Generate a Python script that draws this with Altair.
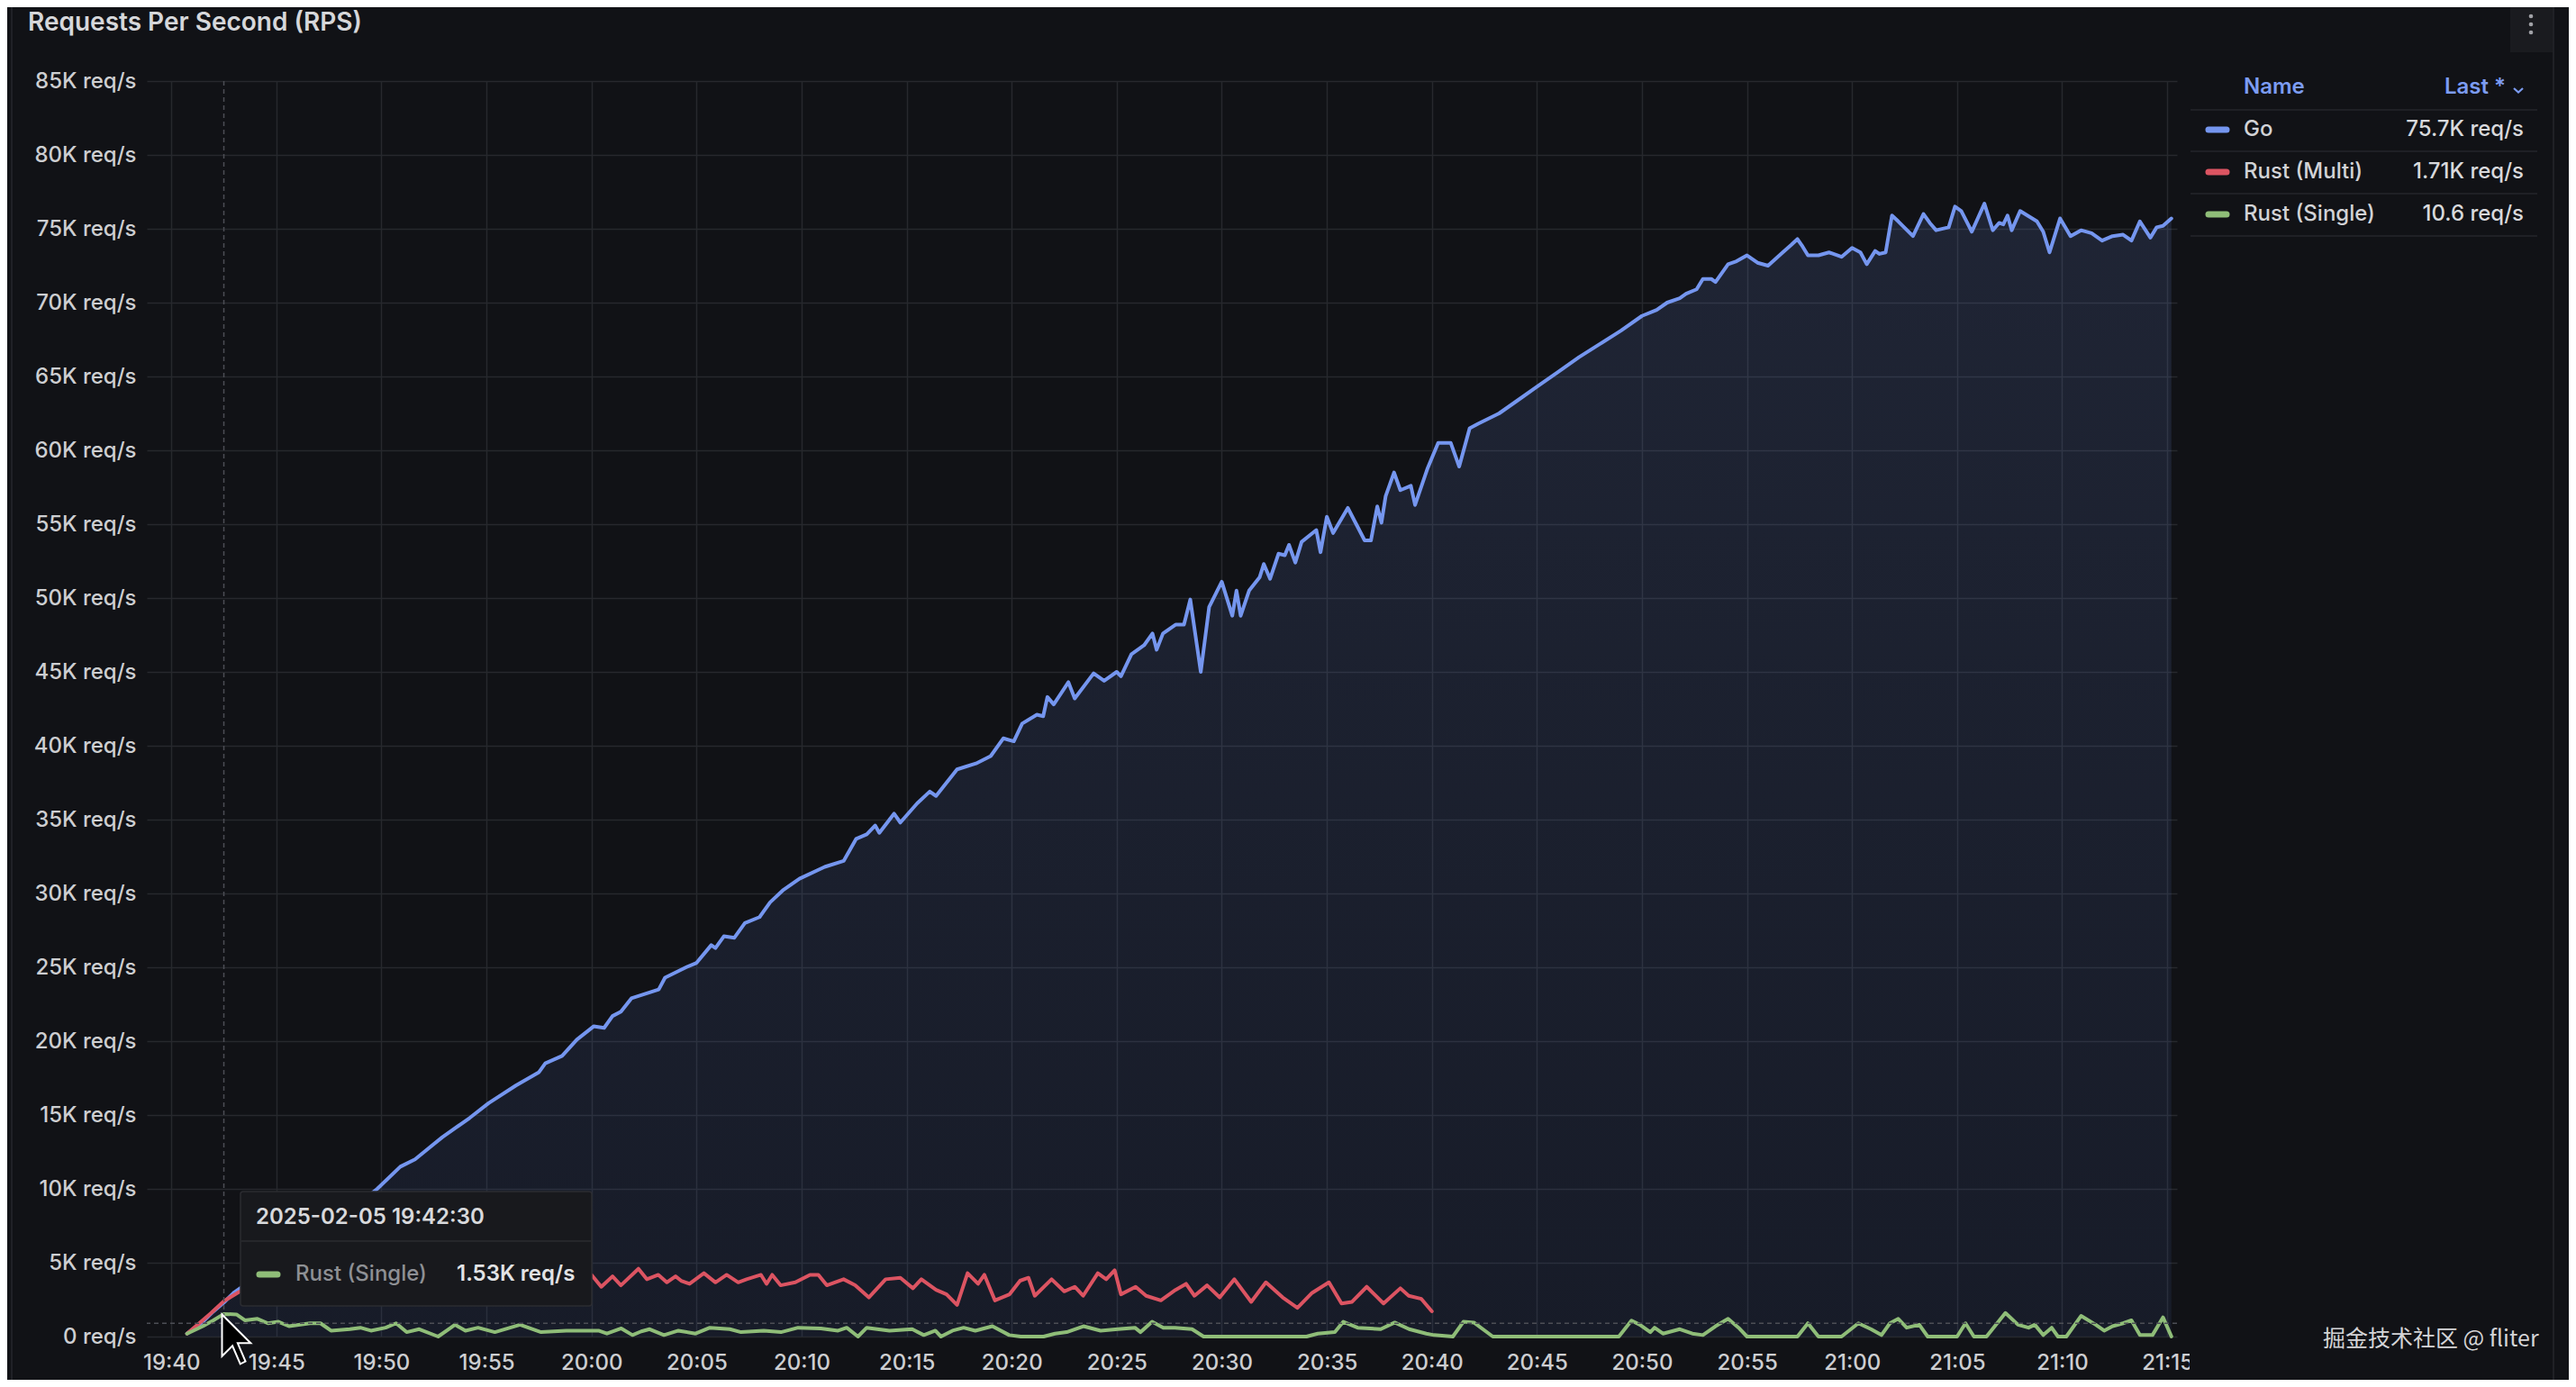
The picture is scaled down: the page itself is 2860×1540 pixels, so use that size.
import altair as alt
import pandas as pd

DAY = "2025-02-05T"

# ---------------- data ----------------
go_time = ["19:40:45","19:41:30","19:42:00","19:42:30","19:43:00","19:43:30","19:44:00","19:45:00","19:46:00","19:47:00",
           "19:48:00","19:49:00","19:49:48","19:50:54","19:51:36","19:52:54","19:54:12","19:55:06","19:56:24","19:57:30",
           "19:57:48","19:58:36","19:59:18","20:00:06","20:00:36","20:01:00","20:01:24","20:01:54","20:03:12","20:03:30",
           "20:04:30","20:05:00","20:05:42","20:05:54","20:06:18","20:06:48","20:07:18","20:08:00","20:08:30","20:09:06",
           "20:09:54","20:11:06","20:12:00","20:12:36","20:13:06","20:13:30","20:13:42","20:14:24","20:14:42","20:15:30",
           "20:16:06","20:16:24","20:17:24","20:18:18","20:19:00","20:19:36","20:20:06","20:20:30","20:21:12","20:21:30",
           "20:21:42","20:22:00","20:22:42","20:23:00","20:23:54","20:24:24","20:25:00","20:25:12","20:25:42","20:26:18",
           "20:26:42","20:26:54","20:27:12","20:27:48","20:28:12","20:28:30","20:29:00","20:29:24","20:30:00","20:30:30",
           "20:30:42","20:30:54","20:31:18","20:31:48","20:32:00","20:32:18","20:32:42","20:33:00","20:33:12","20:33:30",
           "20:33:48","20:34:30","20:34:42","20:35:00","20:35:18","20:36:00","20:36:24","20:36:48","20:37:06","20:37:24",
           "20:37:36","20:37:48","20:38:12","20:38:30","20:39:00","20:39:12","20:39:48","20:40:18","20:40:54","20:41:18",
           "20:41:48","20:42:12","20:43:12","20:44:06","20:45:00","20:46:00","20:47:00","20:48:00","20:49:00","20:50:00",
           "20:50:42","20:51:12","20:51:48","20:52:06","20:52:36","20:52:54","20:53:18","20:53:30","20:54:06","20:54:30",
           "20:55:00","20:55:30","20:56:00","20:56:42","20:57:06","20:57:24","20:57:36","20:57:54","20:58:24","20:58:54",
           "20:59:30","21:00:00","21:00:24","21:00:42","21:01:06","21:01:18","21:01:36","21:01:54","21:02:12","21:02:54",
           "21:03:24","21:03:42","21:04:00","21:04:36","21:04:54","21:05:12","21:05:42","21:06:18","21:06:42","21:07:00",
           "21:07:12","21:07:24","21:07:36","21:08:00","21:08:48","21:09:06","21:09:24","21:09:54","21:10:24","21:10:54",
           "21:11:24","21:11:54","21:12:24","21:12:54","21:13:18","21:13:42","21:14:12","21:14:30","21:14:48","21:15:12"]
go_krps = [0.2,1.0,1.7,2.3,3.0,3.5,4.2,5.1,6.2,7.1,
           8.2,9.1,10.0,11.5,12.0,13.5,14.8,15.8,17.0,17.9,
           18.5,19.0,20.1,21.0,20.9,21.7,22.0,22.9,23.5,24.3,
           25.0,25.3,26.5,26.3,27.1,27.0,28.0,28.4,29.4,30.2,
           31.0,31.8,32.2,33.7,34.0,34.6,34.1,35.4,34.8,36.1,
           36.9,36.6,38.4,38.8,39.3,40.5,40.3,41.5,42.1,42.0,
           43.3,42.8,44.3,43.2,44.9,44.4,45.0,44.7,46.2,46.8,
           47.6,46.5,47.6,48.2,48.2,49.9,45.0,49.4,51.1,48.8,
           50.5,48.8,50.5,51.4,52.3,51.3,53.0,52.9,53.6,52.4,
           53.8,54.6,53.1,55.5,54.4,56.1,55.0,53.9,53.9,56.2,
           55.1,56.9,58.5,57.3,57.6,56.3,58.8,60.5,60.5,58.9,
           61.5,61.8,62.5,63.4,64.3,65.3,66.3,67.2,68.1,69.1,
           69.5,70.0,70.3,70.6,70.9,71.6,71.6,71.4,72.6,72.8,
           73.2,72.7,72.5,73.4,73.9,74.3,73.9,73.2,73.2,73.4,
           73.1,73.7,73.4,72.6,73.5,73.3,73.4,75.9,75.5,74.5,
           76.0,75.4,74.9,75.1,76.5,76.2,74.8,76.7,74.9,75.4,
           75.3,75.9,74.9,76.2,75.5,74.8,73.4,75.7,74.5,74.9,
           74.7,74.2,74.5,74.6,74.2,75.5,74.4,75.1,75.2,75.7]

multi_time = ["19:40:45","19:41:15","19:41:54","19:42:30","19:43:12","19:44:00","19:45:00","19:46:00","19:47:00","19:48:00",
              "19:49:00","19:50:00","19:51:00","19:52:00","19:53:00","19:54:00","19:55:00","19:56:00","19:57:00","19:58:00",
              "19:59:00","20:00:00","20:00:28","20:01:00","20:01:24","20:02:14","20:02:38","20:03:11","20:03:35","20:04:00",
              "20:04:16","20:04:40","20:05:21","20:05:54","20:06:26","20:06:59","20:07:23","20:08:04","20:08:20","20:08:36",
              "20:09:00","20:09:42","20:10:24","20:10:48","20:11:12","20:12:00","20:12:33","20:13:12","20:14:00","20:14:42",
              "20:15:18","20:15:42","20:16:24","20:16:54","20:17:24","20:17:54","20:18:24","20:18:42","20:19:12","20:19:54",
              "20:20:24","20:20:48","20:21:06","20:21:54","20:22:30","20:23:00","20:23:24","20:24:06","20:24:30","20:24:54",
              "20:25:12","20:25:54","20:26:24","20:27:06","20:27:48","20:28:18","20:28:42","20:29:18","20:29:54","20:30:36",
              "20:31:24","20:32:06","20:32:54","20:33:36","20:34:18","20:35:06","20:35:42","20:36:12","20:36:54","20:37:42",
              "20:38:30","20:38:54","20:39:30","20:40:00"]
multi_krps = [0.2,0.8,1.6,2.4,3.0,3.6,3.9,4.3,3.8,4.2,
              3.7,4.1,3.9,4.3,3.8,4.0,4.4,3.7,4.1,3.9,
              4.2,4.18,3.37,4.08,3.47,4.59,3.88,4.18,3.67,4.08,
              3.78,3.57,4.29,3.67,4.18,3.67,3.88,4.18,3.57,4.18,
              3.47,3.67,4.18,4.18,3.47,3.88,3.47,2.65,3.88,3.98,
              3.27,3.88,3.16,2.86,2.14,4.29,3.57,4.18,2.45,2.86,
              3.78,3.98,2.76,3.88,3.06,3.37,2.76,4.29,3.88,4.49,
              2.86,3.37,2.76,2.45,3.16,3.57,2.76,3.47,2.65,3.88,
              2.35,3.67,2.65,1.94,2.96,3.67,2.24,2.35,3.37,2.24,
              3.27,2.76,2.55,1.71]

single_time = ["19:40:45","19:41:30","19:42:00","19:42:30","19:43:06","19:43:30","19:44:06","19:44:36","19:45:06","19:45:36",
               "19:46:36","19:47:06","19:47:36","19:48:30","19:49:00","19:49:30","19:50:12","19:50:42","19:51:12","19:51:48",
               "19:52:42","19:53:12","19:53:30","19:54:00","19:54:36","19:55:24","19:56:36","19:57:36","19:58:48","20:00:20",
               "20:00:44","20:01:25","20:01:57","20:02:22","20:02:46","20:03:27","20:04:08","20:04:57","20:05:38","20:06:35",
               "20:07:07","20:08:12","20:09:01","20:09:50","20:10:55","20:11:44","20:12:09","20:12:41","20:13:06","20:14:11",
               "20:15:16","20:15:49","20:16:22","20:16:38","20:17:11","20:17:43","20:18:16","20:19:05","20:19:53","20:20:26",
               "20:21:31","20:22:04","20:22:37","20:23:25","20:24:14","20:25:03","20:25:52","20:26:08","20:26:41","20:27:13",
               "20:27:46","20:28:35","20:29:08","20:34:02","20:34:34","20:35:23","20:35:47","20:36:28","20:37:34","20:38:14",
               "20:38:55","20:39:44","20:40:06","20:41:00","20:41:30","20:42:00","20:42:54","20:48:54","20:49:30","20:49:54",
               "20:50:24","20:50:36","20:51:00","20:51:48","20:52:24","20:52:54","20:53:30","20:54:06","20:54:36","20:55:00",
               "20:57:24","20:57:54","20:58:24","20:59:30","21:00:18","21:00:54","21:01:24","21:01:48","21:02:12","21:02:36",
               "21:03:12","21:03:36","21:05:00","21:05:24","21:05:48","21:06:24","21:07:18","21:07:54","21:08:24","21:08:42",
               "21:09:06","21:09:30","21:09:48","21:10:12","21:10:54","21:11:36","21:12:00","21:12:24","21:12:54","21:13:18",
               "21:13:42","21:14:18","21:14:48","21:15:12"]
single_krps = [0.2,0.7,1.1,1.53,1.5,1.1,1.2,0.9,1.0,0.7,
               0.9,0.9,0.4,0.5,0.6,0.4,0.6,0.9,0.3,0.5,
               0.0,0.5,0.8,0.4,0.6,0.3,0.8,0.3,0.4,0.4,
               0.2,0.55,0.1,0.35,0.5,0.1,0.4,0.2,0.6,0.5,
               0.3,0.4,0.3,0.6,0.55,0.4,0.6,0.0,0.6,0.4,
               0.5,0.1,0.4,0.0,0.4,0.6,0.4,0.7,0.1,0.0,
               0.0,0.2,0.3,0.7,0.4,0.5,0.6,0.3,1.0,0.6,
               0.6,0.5,0.0,0.0,0.2,0.3,1.0,0.6,0.5,0.95,
               0.5,0.2,0.1,0.0,1.0,0.95,0.0,0.0,1.08,0.8,
               0.3,0.6,0.2,0.5,0.2,0.1,0.7,1.2,0.6,0.0,
               0.0,0.9,0.0,0.0,0.9,0.5,0.1,0.9,1.2,0.6,
               0.8,0.0,0.0,0.9,0.0,0.0,1.6,0.8,0.6,0.8,
               0.1,0.6,0.0,0.0,1.4,0.8,0.4,0.7,0.9,1.1,
               0.1,0.1,1.3,0.0106]

series_names = ["Go", "Rust (Multi)", "Rust (Single)"]
series_colors = ["#7596ef", "#dc5462", "#8fbd78"]
legend_last = ["75.7K req/s", "1.71K req/s", "10.6 req/s"]
x_tick_labels = ["19:40","19:45","19:50","19:55","20:00","20:05","20:10","20:15","20:20","20:25",
                 "20:30","20:35","20:40","20:45","20:50","20:55","21:00","21:05","21:10","21:15"]
y_tick_values = [0,5000,10000,15000,20000,25000,30000,35000,40000,45000,50000,55000,60000,65000,70000,75000,80000,85000]
hover_time = "19:42:30"
hover_series = "Rust (Single)"
hover_value = "1.53K req/s"
hover_mouse_y = 900
title_text = "Requests Per Second (RPS)"
watermark = "掘金技术社区 @ fliter"

# ---------------- build table ----------------
frames = []
for name, ts, vs in [(series_names[0], go_time, go_krps),
                     (series_names[1], multi_time, multi_krps),
                     (series_names[2], single_time, single_krps)]:
    frames.append(pd.DataFrame({"time": [DAY + t for t in ts],
                                "rps": [v * 1000 for v in vs],
                                "series": name}))
df = pd.concat(frames, ignore_index=True)


def dt(hm, s=0):
    h, m = hm.split(":")[:2]
    return alt.DateTime(year=2025, month=2, date=5, hours=int(h), minutes=int(m), seconds=s)


BG = "#111216"
GRID = "#27282d"
TXT = "#cdced1"
FONT = "Inter"
FS = 24

# plot area in page pixels: left 163, top 90
def ax(X):
    return X - 163


def ay(Y):
    return Y - 90


one = alt.Data(values=[{"k": 0}])

color_scale = alt.Scale(domain=series_names, range=series_colors)

x_enc = alt.X("time:T",
              scale=alt.Scale(domain=[dt("19:38", 50), dt("21:15", 28)]),
              axis=alt.Axis(values=[dt(t) for t in x_tick_labels], format="%H:%M", title=None,
                            labelFont=FONT, labelFontSize=FS, labelFontWeight=500, labelColor=TXT,
                            labelPadding=17, grid=True, gridColor=GRID, gridWidth=1.5,
                            domain=False, ticks=False, labelOverlap=False, labelFlush=False, zindex=0))
y_enc = alt.Y("rps:Q",
              scale=alt.Scale(domain=[0, 85000], nice=False, zero=True),
              axis=alt.Axis(values=y_tick_values, title=None,
                            labelExpr="datum.value == 0 ? '0 req/s' : (datum.value / 1000) + 'K req/s'",
                            labelFont=FONT, labelFontSize=FS, labelFontWeight=500, labelColor=TXT,
                            labelPadding=12, grid=True, gridColor=GRID, gridWidth=1.5,
                            domain=False, ticks=False, zindex=0))

base = alt.Chart(df)

area = base.transform_filter(alt.datum.series == "Go").mark_area(
    fillOpacity=0.14,
    color=alt.Gradient(gradient="linear",
                       stops=[alt.GradientStop(color="#7596ef", offset=0),
                              alt.GradientStop(color="#3d5596", offset=1)],
                       x1=1, x2=1, y1=0, y2=1),
).encode(x=x_enc, y=y_enc)

lines = base.mark_line(strokeWidth=4, strokeJoin="round", strokeCap="round").encode(
    x=x_enc, y=y_enc,
    color=alt.Color("series:N", scale=color_scale, legend=None),
    detail="series:N",
    order=alt.Order("time:T"),
)

layers = [area, lines]

# crosshair
layers.append(alt.Chart(alt.Data(values=[{"time": DAY + hover_time}])).mark_rule(
    color="#4c4e55", strokeWidth=1.5, strokeDash=[5, 4]).encode(x="time:T"))
layers.append(alt.Chart(alt.Data(values=[{"rps": hover_mouse_y}])).mark_rule(
    color="#4c4e55", strokeWidth=1.5, strokeDash=[5, 4]).encode(y="rps:Q"))


def rect(X1, Y1, X2, Y2, fill, stroke=None, radius=0, sw=1.5):
    kw = dict(fill=fill, cornerRadius=radius)
    if stroke:
        kw.update(stroke=stroke, strokeWidth=sw)
    return alt.Chart(one).mark_rect(**kw).encode(
        x=alt.value(ax(X1)), x2=alt.value(ax(X2)), y=alt.value(ay(Y1)), y2=alt.value(ay(Y2)))


def hline(X1, X2, Y, color, sw=1.5, cap="butt"):
    return alt.Chart(one).mark_rule(color=color, strokeWidth=sw, strokeCap=cap).encode(
        x=alt.value(ax(X1)), x2=alt.value(ax(X2)), y=alt.value(ay(Y)))


def vline(X, Y1, Y2, color, sw=1.5):
    return alt.Chart(one).mark_rule(color=color, strokeWidth=sw).encode(
        x=alt.value(ax(X)), y=alt.value(ay(Y1)), y2=alt.value(ay(Y2)))


def label(text, X, Y, size=FS, color=TXT, weight=500, align="left", font=FONT):
    return alt.Chart(alt.Data(values=[{"t": text}])).mark_text(
        align=align, baseline="middle", fontSize=size, color=color, fontWeight=weight, font=font
    ).encode(x=alt.value(ax(X)), y=alt.value(ay(Y)), text="t:N")


# clip the last tick label like the panel does
layers.append(rect(2431, 1492, 2478, 1536, BG))

# tooltip
layers.append(rect(267, 1323, 657, 1450, "#18191d", stroke="#2b2c31", radius=3))
layers.append(hline(268, 656, 1378, "#2b2c31"))
layers.append(label(DAY[:-1] + " " + hover_time, 284, 1352, color="#d8d9dc", weight=600))
layers.append(hline(288, 308, 1415, series_colors[2], sw=7, cap="round"))
layers.append(label(hover_series, 328, 1415, color="#8e9094", weight=500))
layers.append(label(hover_value, 507, 1415, color="#e2e3e5", weight=600))

# mouse cursor
cursor_path = "M-1,-1 L-1,0.684 L-0.579,0.263 L-0.263,1 L-0.053,0.895 L-0.368,0.158 L0.158,0.158 Z"
layers.append(alt.Chart(one).mark_point(shape=cursor_path, size=3025, filled=True, fill="#000000",
                                        stroke="#ffffff", strokeWidth=2, opacity=1).encode(
    x=alt.value(ax(274)), y=alt.value(ay(1487))))

# panel chrome
layers.append(vline(13, 0, 1540, "#202126", sw=2))
layers.append(vline(2835, 0, 1540, "#202126", sw=2))
layers.append(rect(2787, 0, 2834, 58, "#1a1b1f"))
for dy in (18, 27, 36):
    layers.append(alt.Chart(one).mark_point(shape="circle", size=22, filled=True, color="#a0a1a6", opacity=1).encode(
        x=alt.value(ax(2810)), y=alt.value(ay(dy))))
layers.append(label(title_text, 31, 26, size=28, color="#d6d7da", weight=600))

# legend table
LEG_BLUE = "#7c9cf2"
layers.append(label("Name", 2491, 97, color=LEG_BLUE, weight=600))
layers.append(label("Last *", 2782, 97, color=LEG_BLUE, weight=600, align="right"))
layers.append(alt.Chart(one).mark_point(shape="M-1,-0.4 L0,0.5 L1,-0.4", size=100, filled=False,
                                        color=LEG_BLUE, strokeWidth=2.2, opacity=1).encode(
    x=alt.value(ax(2796)), y=alt.value(ay(100))))
for ly in (122, 168, 215, 262):
    layers.append(hline(2432, 2817, ly, "#25262b"))
for i, (nm, col, last) in enumerate(zip(series_names, series_colors, legend_last)):
    yy = 144 + i * 47
    layers.append(hline(2452, 2472, yy, col, sw=7, cap="round"))
    layers.append(label(nm, 2491, yy, color="#d2d3d6", weight=500))
    layers.append(label(last, 2802, yy, color="#d8d9dc", weight=500, align="right"))

# watermark
layers.append(label(watermark, 2579, 1487, size=25, color="#d4d4d6", weight=400, font="Noto Sans CJK SC"))

chart = alt.layer(*layers).properties(
    width=2254, height=1394,
    padding={"left": 155, "top": 82, "right": 435, "bottom": 48},
    autosize=alt.AutoSizeParams(type="none"),
    background=BG,
).configure_view(stroke=None)

chart.save("out.html", embed_options={"renderer": "svg", "actions": False})
